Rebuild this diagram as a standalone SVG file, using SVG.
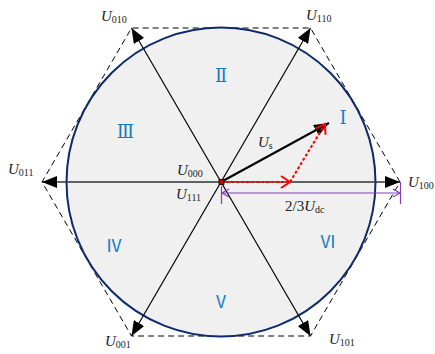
<svg xmlns="http://www.w3.org/2000/svg" width="435" height="354" viewBox="0 0 435 354">
<defs>
<style>
.lbl{font-family:"Liberation Serif","Times New Roman",serif;font-size:15px;fill:#222}
.lbl .u{font-style:italic}
.lbl .s{font-size:10px}
.rn{font-family:"Noto Sans CJK SC",sans-serif;font-size:17px;fill:#1a7dc4;text-anchor:middle}
.rs{font-family:"DejaVu Serif",serif;font-size:18px}
.vec{stroke:#000;stroke-width:1.2;fill:none;marker-end:url(#ah)}
</style>
<marker id="ah" markerUnits="userSpaceOnUse" markerWidth="18" markerHeight="12" refX="15" refY="6" orient="auto">
<path d="M0,0 L15,6 L0,12 Z" fill="#000"/>
</marker>
<marker id="ahr" markerUnits="userSpaceOnUse" markerWidth="12" markerHeight="14" refX="10" refY="7" orient="auto">
<path d="M1,1 L10,7 L1,13" fill="none" stroke="#f00" stroke-width="2"/>
</marker>
<marker id="ahp" markerUnits="userSpaceOnUse" markerWidth="10" markerHeight="10" refX="8" refY="5" orient="auto-start-reverse">
<path d="M1,1 L8,5 L1,9" fill="none" stroke="#8040b0" stroke-width="1.2"/>
</marker>
</defs>
<g id="hexagon">
<polygon points="400,182 310.5,28 131.5,28 42,182 131.5,336 310.5,336" fill="none" stroke="#000" stroke-width="1" stroke-dasharray="6,4"/>
</g>
<g id="circle">
<circle cx="221" cy="182" r="154.5" fill="#f0f0f0" stroke="#0d2a6b" stroke-width="2"/>
</g>
<g id="connectors">
<line x1="221" y1="182" x2="400" y2="182" class="vec" style="stroke:#333;stroke-width:1.6"/>
<line x1="221" y1="182" x2="42" y2="182" class="vec" style="stroke:#333;stroke-width:1.6"/>
<line x1="221" y1="182" x2="131.5" y2="28" class="vec"/>
<line x1="221" y1="182" x2="310.5" y2="28" class="vec"/>
<line x1="221" y1="182" x2="131.5" y2="336" class="vec"/>
<line x1="221" y1="182" x2="310.5" y2="336" class="vec"/>
<line x1="221" y1="182" x2="329" y2="123" class="vec" style="stroke-width:2"/>
<line x1="221" y1="182" x2="290" y2="182" stroke="#f00" stroke-width="2" stroke-dasharray="3,2" marker-end="url(#ahr)"/>
<line x1="290" y1="182" x2="325" y2="124" stroke="#f00" stroke-width="2" stroke-dasharray="3,2" marker-end="url(#ahr)"/>
<line x1="222" y1="193" x2="400" y2="193" stroke="#8040b0" stroke-width="1.2" marker-start="url(#ahp)" marker-end="url(#ahp)"/>
<line x1="221.5" y1="186" x2="221.5" y2="204" stroke="#8040b0" stroke-width="1.2"/>
<line x1="400.5" y1="182" x2="400.5" y2="204" stroke="#8040b0" stroke-width="1.2"/>
<rect x="219" y="179.5" width="5" height="5" fill="#c00" stroke="#000" stroke-width="0.8"/>
</g>
<g id="sectors">
<text class="rn rs" x="343" y="124">Ⅰ</text>
<text class="rn rs" x="221" y="82">Ⅱ</text>
<text class="rn rs" x="125.5" y="138">Ⅲ</text>
<text class="rn" x="114" y="252">Ⅳ</text>
<text class="rn" x="221" y="308">Ⅴ</text>
<text class="rn" x="328" y="248">Ⅵ</text>
</g>
<g id="labels">
<text class="lbl" x="101" y="21"><tspan class="u">U</tspan><tspan class="s" dy="2">010</tspan></text>
<text class="lbl" x="306" y="20"><tspan class="u">U</tspan><tspan class="s" dy="2">110</tspan></text>
<text class="lbl" x="8" y="174"><tspan class="u">U</tspan><tspan class="s" dy="2">011</tspan></text>
<text class="lbl" x="408" y="187"><tspan class="u">U</tspan><tspan class="s" dy="2">100</tspan></text>
<text class="lbl" x="105" y="346"><tspan class="u">U</tspan><tspan class="s" dy="2">001</tspan></text>
<text class="lbl" x="329" y="344"><tspan class="u">U</tspan><tspan class="s" dy="2">101</tspan></text>
<text class="lbl" x="177" y="175"><tspan class="u">U</tspan><tspan class="s" dy="2">000</tspan></text>
<text class="lbl" x="176" y="199"><tspan class="u">U</tspan><tspan class="s" dy="2">111</tspan></text>
<text class="lbl" x="258" y="147"><tspan class="u">U</tspan><tspan class="s" dy="2">s</tspan></text>
<text class="lbl" x="285" y="211">2/3<tspan class="u">U</tspan><tspan class="s" dy="2">dc</tspan></text>
</g>
</svg>
